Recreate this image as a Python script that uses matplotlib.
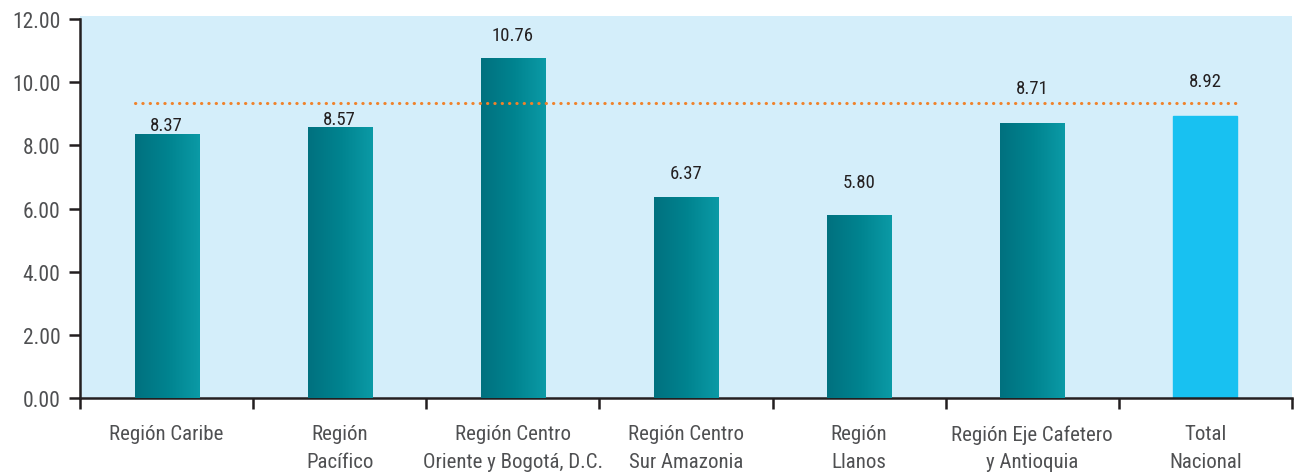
import matplotlib
matplotlib.use('Agg')
import numpy as np
import matplotlib.pyplot as plt

# ── Data ────────────────────────────────────────────────────────────────────
regions = [
    'Región Caribe',
    'Región\nPacífico',
    'Región Centro\nOriente y Bogotá, D.C.',
    'Región Centro\nSur Amazonia',
    'Región\nLlanos',
    'Región Eje Cafetero\ny Antioquia',
    'Total\nNacional',
]
values = [8.37, 8.57, 10.76, 6.37, 5.80, 8.71, 8.92]
reference_level = 9.35
yticks = [0, 2, 4, 6, 8, 10, 12]

# label offsets above each bar (points)
label_pad = [0, -0.5, 10, 10.5, 17, 18.5, 19]

# ── Style ───────────────────────────────────────────────────────────────────
plt.rcParams['font.family'] = ['Roboto Condensed', 'DejaVu Sans']

BG = '#d4eefa'
TEAL_L = '#00717f'
TEAL_R = '#0b9aa6'
CYAN = '#18c1f1'
DOT = '#f0822a'
INK = '#231f20'
TICK_TXT = '#4f5052'

fig = plt.figure(figsize=(12.94, 4.77), dpi=100)
ax = fig.add_axes([80 / 1294, 78 / 477, 1212 / 1294, 382 / 477])
ax.set_facecolor(BG)

x = np.arange(len(values))
width = 0.37
bars = ax.bar(x, values, width=width, color=TEAL_L, zorder=2)

# horizontal gradient on the regional bars, flat colour on the national total
cmap = matplotlib.colors.LinearSegmentedColormap.from_list('teal', [TEAL_L, '#00838f', TEAL_R])
grad = np.linspace(0, 1, 256).reshape(1, -1)
for i, b in enumerate(bars):
    if i == len(bars) - 1:
        b.set_color(CYAN)
        continue
    x0, y0 = b.get_x(), b.get_y()
    im = ax.imshow(grad, cmap=cmap, aspect='auto', zorder=3,
                   extent=[x0, x0 + b.get_width(), y0, y0 + b.get_height()])
    im.set_clip_path(b)

ax.plot([x[0] - width / 2, x[-1] + width / 2], [reference_level] * 2,
        color=DOT, lw=2.2, linestyle=(0, (0.1, 2.3)), dash_capstyle='round', zorder=4)

for xi, v, pad in zip(x, values, label_pad):
    ax.annotate(f'{v:.2f}', (xi, v), xytext=(0, pad), textcoords='offset points',
                ha='center', va='bottom', fontsize=13.5, color=INK, zorder=5)

ax.set_xlim(-0.5, len(values) - 0.5)
ax.set_ylim(0, 12.1)
ax.set_yticks(yticks)
ax.set_yticklabels([f'{t:.2f}' for t in yticks], fontsize=15.5, color=TICK_TXT)

ax.set_xticks(x)
ax.set_xticklabels(regions, fontsize=15, color=TICK_TXT, linespacing=1.55)
ax.set_xticks(np.arange(len(values) + 1) - 0.5, minor=True)
ax.tick_params(axis='x', which='major', length=0, pad=19)
ax.tick_params(axis='x', which='minor', length=8, width=1.8, color=INK, direction='out')
ax.tick_params(axis='y', length=8, width=1.8, color=INK, pad=6)

for s in ('top', 'right'):
    ax.spines[s].set_visible(False)
for s in ('left', 'bottom'):
    ax.spines[s].set_color(INK)
    ax.spines[s].set_linewidth(1.8)
ax.spines['left'].set_bounds(0, 12)

fig.savefig('out.png', dpi=100)
